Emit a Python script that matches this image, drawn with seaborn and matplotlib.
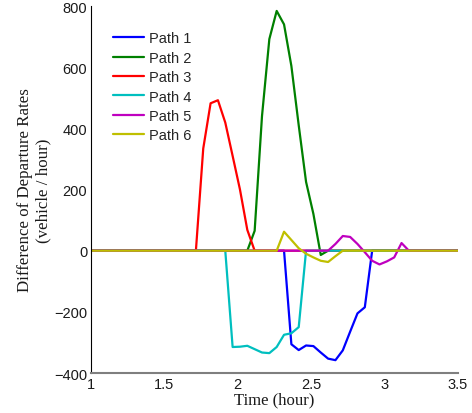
import matplotlib
matplotlib.use("Agg")
import matplotlib.pyplot as plt
import pandas as pd
import seaborn as sns

# Departure-rate differences per path (time in hours, rate in vehicle/hour)
path1_t = [1.0, 2.3167, 2.3667, 2.4167, 2.4667, 2.5167, 2.5667, 2.6167, 2.6667, 2.7167, 2.7667, 2.8167, 2.8667, 2.9167, 3.5]
path1_v = [0, 0, -306, -325, -310, -312, -333, -353, -358, -326, -265, -205, -185, 0, 0]

path2_t = [1.0, 2.0667, 2.1167, 2.1667, 2.2167, 2.2667, 2.3167, 2.3667, 2.4167, 2.4667, 2.5167, 2.5667, 2.6167, 3.5]
path2_v = [0, 0, 65, 440, 692, 784, 740, 604, 410, 225, 120, -14, 0, 0]

path3_t = [1.0, 1.7167, 1.7667, 1.8167, 1.8667, 1.9167, 1.9667, 2.0167, 2.0667, 2.1167, 3.5]
path3_v = [0, 0, 334, 482, 492, 419, 310, 200, 68, 0, 0]

path4_t = [1.0, 1.9167, 1.9667, 2.0167, 2.0667, 2.1167, 2.1667, 2.2167, 2.2667, 2.3167, 2.3667, 2.4167, 2.4667, 3.5]
path4_v = [0, 0, -315, -314, -311, -322, -333, -335, -315, -275, -270, -250, 0, 0]

path5_t = [1.0, 2.6167, 2.6667, 2.7167, 2.7667, 2.8167, 2.8667, 2.9167, 2.9667, 3.0167, 3.0667, 3.1167, 3.1667, 3.5]
path5_v = [0, 0, 22, 48, 45, 22, -5, -33, -45, -35, -22, 25, 0, 0]

path6_t = [1.0, 2.2667, 2.3167, 2.3667, 2.4167, 2.4667, 2.5167, 2.5667, 2.6167, 2.6667, 2.7167, 3.5]
path6_v = [0, 0, 62, 35, 8, -10, -22, -33, -37, -18, 0, 0]

path_names = ["Path 1", "Path 2", "Path 3", "Path 4", "Path 5", "Path 6"]
path_colors = ["#0000ff", "#008000", "#ff0000", "#00bfbf", "#bf00bf", "#bfbf00"]

x_ticks = [1, 1.5, 2, 2.5, 3, 3.5]
x_tick_labels = ["1", "1.5", "2", "2.5", "3", "3.5"]
y_ticks = [-400, -200, 0, 200, 400, 600, 800]

series = [(path1_t, path1_v), (path2_t, path2_v), (path3_t, path3_v),
          (path4_t, path4_v), (path5_t, path5_v), (path6_t, path6_v)]
frames = []
for name, (t, v) in zip(path_names, series):
    frames.append(pd.DataFrame({"time": t, "rate": v, "path": name}))
df = pd.concat(frames, ignore_index=True)

sns.set_theme(style="white")
plt.rcParams["font.family"] = ["Liberation Sans", "DejaVu Sans"]

fig = plt.figure(figsize=(4.72, 4.14), dpi=100)
ax = fig.add_axes([0.192, 0.0966, 0.778, 0.8864])

sns.lineplot(data=df, x="time", y="rate", hue="path", hue_order=path_names,
             palette=dict(zip(path_names, path_colors)), estimator=None,
             sort=False, linewidth=1.6, ax=ax)

ax.set_xlim(1, 3.5)
ax.set_ylim(-400, 800)
ax.set_xticks(x_ticks)
ax.set_xticklabels(x_tick_labels)
ax.set_yticks(y_ticks)

for side in ("top", "right"):
    ax.spines[side].set_visible(False)
ax.spines["left"].set_color("black")
ax.spines["left"].set_linewidth(0.8)
ax.spines["bottom"].set_color("#7f7f7f")
ax.spines["bottom"].set_linewidth(1.5)

ax.tick_params(axis="both", direction="in", length=3, width=0.8,
               colors="black", labelsize=10.5, labelcolor="#1a1a1a")
ax.tick_params(axis="x", pad=3)
ax.tick_params(axis="y", pad=2.5)

serif = ["Liberation Serif", "DejaVu Serif"]
ax.set_xlabel("Time (hour)", family=serif, fontsize=12, color="#1a1a1a")
ax.set_ylabel("Difference of Departure Rates\n(vehicle / hour)", family=serif,
              fontsize=12.2, color="#1a1a1a", linespacing=1.15)
ax.xaxis.set_label_coords(0.5, -0.05)
ax.yaxis.set_label_coords(-0.108, 0.5)

handles, labels = ax.get_legend_handles_labels()
ax.legend(handles, labels, loc="upper left", bbox_to_anchor=(0.061, 0.931),
          frameon=False, fontsize=10.5, handlelength=2.1, handletextpad=0.35,
          labelspacing=0.37, borderpad=0, borderaxespad=0)

fig.savefig("out.png", dpi=100)
